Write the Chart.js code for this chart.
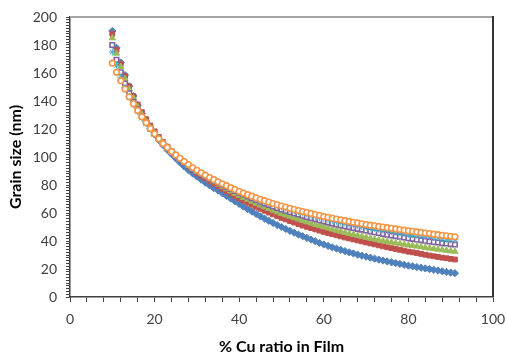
<!DOCTYPE html>
<html>
<head>
<meta charset="utf-8">
<script src="https://cdn.jsdelivr.net/npm/chart.js@4"></script>
<style>
  html, body { margin: 0; padding: 0; background: #fff; }
  #wrap { width: 507px; height: 356px; }
</style>
</head>
<body>
<div id="wrap"><canvas id="grainChart" width="507" height="356"></canvas></div>
<script>
// % Cu ratio in film (x)
const cuRatio = [10, 11, 12, 13, 14, 15, 16, 17, 18, 19,
  20, 21, 22, 23, 24, 25, 26, 27, 28, 29,
  30, 31, 32, 33, 34, 35, 36, 37, 38, 39,
  40, 41, 42, 43, 44, 45, 46, 47, 48, 49,
  50, 51, 52, 53, 54, 55, 56, 57, 58, 59,
  60, 61, 62, 63, 64, 65, 66, 67, 68, 69,
  70, 71, 72, 73, 74, 75, 76, 77, 78, 79,
  80, 81, 82, 83, 84, 85, 86, 87, 88, 89,
  90, 91];

// grain size (nm), one array per series
const seriesBlue = [190, 178, 167.5, 158.5, 150.5, 143.5, 137, 131, 125.5, 120.5,
  116, 112, 108.5, 105, 102, 99, 96, 93.2, 90.6, 88.2,
  86, 83.8, 81.7, 79.7, 77.8, 76, 74.1, 72.2, 70.3, 68.4,
  66.5, 64.6, 62.8, 61, 59.3, 57.6, 56, 54.4, 52.9, 51.4,
  50, 48.6, 47.2, 45.9, 44.6, 43.4, 42.2, 41, 39.8, 38.6,
  37.5, 36.5, 35.5, 34.6, 33.7, 32.8, 31.9, 31.1, 30.3, 29.5,
  28.8, 28.1, 27.4, 26.7, 26, 25.4, 24.8, 24.2, 23.6, 23,
  22.4, 21.9, 21.4, 20.9, 20.4, 19.9, 19.4, 18.9, 18.4, 17.9,
  17.4, 17];

const seriesRed = [188, 176.5, 166.5, 158, 150.5, 143.5, 137.5, 132, 127, 122.5,
  118.3, 114.4, 110.8, 107.4, 104.2, 101.2, 98.4, 95.7, 93.2, 90.8,
  88.5, 86.5, 84.6, 82.7, 80.9, 79.1, 77.3, 75.6, 73.9, 72.2,
  70.5, 68.9, 67.4, 65.9, 64.4, 63, 61.6, 60.3, 59, 57.7,
  56.5, 55.4, 54.3, 53.2, 52.1, 51, 50.1, 49.2, 48.3, 47.4,
  46.5, 45.7, 44.9, 44.1, 43.3, 42.5, 41.8, 41.1, 40.4, 39.7,
  39, 38.3, 37.6, 36.9, 36.2, 35.5, 34.9, 34.3, 33.7, 33.1,
  32.4, 31.9, 31.4, 30.8, 30.2, 29.6, 29.1, 28.6, 28.1, 27.7,
  27.2, 26.8];

const seriesGreen = [185, 174, 164.5, 156, 148.5, 142, 136, 130.5, 125.5, 121,
  117, 113.3, 109.9, 106.7, 103.8, 101.2, 98.6, 96.2, 93.9, 91.7,
  89.6, 87.6, 85.7, 83.9, 82.2, 80.5, 78.8, 77.2, 75.6, 74,
  72.5, 71, 69.6, 68.2, 66.8, 65.5, 64.3, 63.1, 61.9, 60.7,
  59.5, 58.5, 57.5, 56.5, 55.5, 54.5, 53.6, 52.7, 51.8, 50.9,
  50, 49.2, 48.4, 47.6, 46.8, 46, 45.3, 44.6, 43.9, 43.2,
  42.5, 41.9, 41.3, 40.7, 40.1, 39.5, 39, 38.5, 38, 37.5,
  37, 36.6, 36.2, 35.7, 35.3, 34.8, 34.4, 34, 33.6, 33.2,
  32.8, 32.5];

const seriesPurple = [180, 169.5, 160.5, 152.5, 145.5, 139.5, 134, 129, 124.5, 120.3,
  116.5, 113, 109.7, 106.6, 103.6, 100.8, 98.2, 95.8, 93.6, 91.5,
  89.5, 87.8, 86.1, 84.5, 83, 81.5, 80, 78.6, 77.2, 75.8,
  74.5, 73.2, 71.9, 70.6, 69.3, 68, 66.9, 65.8, 64.7, 63.6,
  62.5, 61.6, 60.7, 59.8, 58.9, 58, 57.2, 56.4, 55.6, 54.8,
  54, 53.3, 52.6, 51.9, 51.2, 50.5, 49.9, 49.3, 48.7, 48.1,
  47.5, 46.9, 46.3, 45.7, 45.1, 44.5, 44, 43.5, 43, 42.5,
  42, 41.5, 41.1, 40.6, 40.2, 39.7, 39.3, 38.9, 38.5, 38.2,
  37.8, 37.5];

const seriesTeal = [175, 165.5, 157, 149.5, 143, 137.5, 132.5, 128, 123.8, 120,
  116.5, 113.2, 110, 107, 104.1, 101.3, 98.7, 96.3, 94, 92,
  90, 88.3, 86.6, 85, 83.5, 82, 80.6, 79.2, 77.9, 76.6,
  75.3, 74.1, 72.9, 71.7, 70.6, 69.5, 68.5, 67.5, 66.5, 65.5,
  64.5, 63.6, 62.7, 61.8, 60.9, 60, 59.2, 58.4, 57.7, 56.9,
  56.2, 55.5, 54.8, 54.1, 53.4, 52.8, 52.2, 51.6, 51, 50.5,
  50, 49.4, 48.9, 48.3, 47.8, 47.3, 46.8, 46.3, 45.9, 45.4,
  45, 44.6, 44.2, 43.8, 43.4, 43, 42.6, 42.2, 41.8, 41.5,
  41.1, 40.8];

const seriesOrange = [167, 160.5, 154.5, 148.5, 143, 138, 133.3, 128.8, 124.5, 120.4,
  116.6, 113, 109.7, 106.7, 104, 101.5, 99.1, 96.8, 94.6, 92.5,
  90.5, 88.7, 87, 85.3, 83.8, 82.3, 80.9, 79.5, 78.1, 76.8,
  75.5, 74.3, 73.1, 72, 70.9, 69.8, 68.8, 67.8, 66.8, 65.9,
  65, 64.2, 63.4, 62.6, 61.8, 61, 60.3, 59.6, 58.9, 58.2,
  57.5, 56.9, 56.3, 55.7, 55.1, 54.5, 54, 53.4, 52.9, 52.3,
  51.8, 51.3, 50.9, 50.4, 50, 49.5, 49.1, 48.6, 48.2, 47.7,
  47.3, 46.9, 46.5, 46.1, 45.7, 45.3, 44.9, 44.5, 44.1, 43.7,
  43.4, 43];

const xAxisTitle = '% Cu ratio in Film';
const yAxisTitle = 'Grain size (nm)';

const FONT = 'Lato, "Open Sans", sans-serif';

function toPoints(values) {
  return values.map((v, i) => ({ x: cuRatio[i], y: v }));
}

function serie(values, color, style, radius, hollow, order) {
  return {
    data: toPoints(values),
    showLine: false,
    pointStyle: style,
    pointRadius: radius,
    pointHoverRadius: radius,
    pointBackgroundColor: hollow ? '#ffffff' : color,
    pointBorderColor: color,
    pointBorderWidth: hollow ? 1.6 : 1,
    order: order
  };
}

// top and right border of the plot area
const frameBorder = {
  id: 'frameBorder',
  afterDraw(chart) {
    const { ctx, chartArea } = chart;
    ctx.save();
    ctx.lineWidth = 2;
    ctx.strokeStyle = '#a6a6a6';
    ctx.beginPath();
    ctx.moveTo(chartArea.left, chartArea.top);
    ctx.lineTo(chartArea.right, chartArea.top);
    ctx.stroke();
    ctx.strokeStyle = '#333333';
    ctx.beginPath();
    ctx.moveTo(chartArea.right, chartArea.top - 1);
    ctx.lineTo(chartArea.right, chartArea.bottom);
    ctx.stroke();
    ctx.restore();
  }
};

const ctx = document.getElementById('grainChart').getContext('2d');
new Chart(ctx, {
  type: 'scatter',
  data: {
    datasets: [
      serie(seriesBlue, '#4F81BD', 'rectRot', 3.6, false, 6),
      serie(seriesRed, '#C0504D', 'rect', 3.4, false, 5),
      serie(seriesGreen, '#9BBB59', 'triangle', 3.6, false, 4),
      serie(seriesPurple, '#8064A2', 'rect', 3.2, true, 3),
      serie(seriesTeal, '#4BACC6', 'star', 3.6, false, 2),
      serie(seriesOrange, '#F79646', 'circle', 2.8, true, 1)
    ]
  },
  options: {
    responsive: false,
    animation: false,
    events: [],
    layout: { padding: { top: 17, right: 14, left: 0, bottom: 0 } },
    plugins: {
      legend: { display: false },
      tooltip: { enabled: false }
    },
    scales: {
      x: {
        type: 'linear',
        min: 0,
        max: 100,
        afterFit: (scale) => {
          scale.height = 59;
          scale.paddingLeft = 0;
          scale.paddingRight = 0;
        },
        border: { display: true, color: '#404040', width: 1.5 },
        grid: {
          drawOnChartArea: false,
          drawTicks: true,
          tickLength: 5,
          color: '#404040',
          lineWidth: 1
        },
        ticks: {
          stepSize: 4,
          autoSkip: false,
          maxRotation: 0,
          padding: 9,
          color: '#404040',
          font: { family: FONT, size: 14 },
          callback: (v) => (v % 20 === 0 ? String(v) : '')
        },
        title: {
          display: true,
          text: xAxisTitle,
          color: '#000000',
          padding: { top: 0, bottom: 0 },
          font: { family: FONT, size: 16, weight: 'bold' }
        }
      },
      y: {
        type: 'linear',
        min: 0,
        max: 200,
        afterFit: (scale) => {
          scale.width = 70;
          scale.paddingTop = 0;
          scale.paddingBottom = 0;
        },
        border: { display: true, color: '#404040', width: 1.5 },
        grid: {
          drawOnChartArea: false,
          drawTicks: true,
          tickLength: 4,
          color: '#404040',
          lineWidth: 1
        },
        ticks: {
          stepSize: 2,
          autoSkip: false,
          padding: 9,
          color: '#404040',
          font: { family: FONT, size: 14 },
          callback: (v) => (v % 20 === 0 ? String(v) : '')
        },
        title: {
          display: true,
          text: yAxisTitle,
          color: '#000000',
          padding: { top: 6, bottom: 0 },
          font: { family: FONT, size: 16, weight: 'bold' }
        }
      }
    }
  },
  plugins: [frameBorder]
});
</script>
</body>
</html>
